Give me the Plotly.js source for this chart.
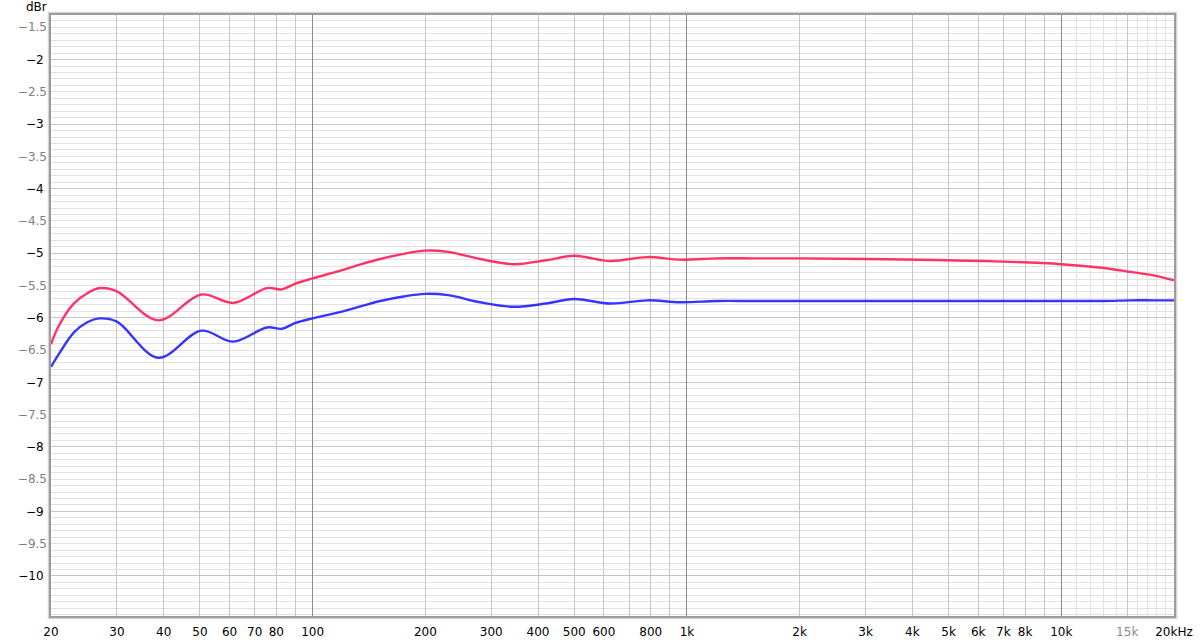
<!DOCTYPE html>
<html><head><meta charset="utf-8">
<script src="https://cdn.plot.ly/plotly-3.0.1.min.js"></script>
<style>html,body{margin:0;padding:0;background:#fff}#chart{width:1200px;height:640px}</style>
</head><body><div id="chart"></div>
<script>
// ---- data ----
const freq = [20, 21, 23, 25, 27, 30, 38.7, 50.4, 61.4, 75.5, 82.8, 90, 100, 118.6, 135, 151.6, 175, 200, 230, 280, 344, 420, 498, 625, 783, 961, 1200, 1500, 2000, 3000, 5000, 7000, 10000, 13000, 15350, 17500, 20000];
const redLevel = [-6.41, -6.12, -5.78, -5.62, -5.54, -5.59, -6.04, -5.64, -5.77, -5.54, -5.56, -5.47, -5.39, -5.27, -5.17, -5.09, -5.01, -4.96, -4.98, -5.09, -5.17, -5.11, -5.04, -5.12, -5.06, -5.10, -5.08, -5.08, -5.08, -5.09, -5.11, -5.13, -5.17, -5.23, -5.29, -5.34, -5.42];
const blueLevel = [-6.76, -6.56, -6.23, -6.07, -6.01, -6.06, -6.62, -6.20, -6.37, -6.15, -6.17, -6.08, -6.01, -5.91, -5.82, -5.74, -5.67, -5.63, -5.65, -5.76, -5.83, -5.78, -5.71, -5.78, -5.73, -5.76, -5.74, -5.74, -5.74, -5.74, -5.74, -5.74, -5.74, -5.74, -5.73, -5.73, -5.73];

// ---- tick labels ----
const xTickVals = [20, 30, 40, 50, 60, 70, 80, 90, 100, 200, 300, 400, 500, 600, 700, 800, 900, 1000, 2000, 3000, 4000, 5000, 6000, 7000, 8000, 9000, 10000, 15000, 20000];
const xTickText = ['20', '30', '40', '50', '60', '70', '80', '', '100', '200', '300', '400', '500', '600', '', '800', '', '1k', '2k', '3k', '4k', '5k', '6k', '7k', '8k', '', '10k', '<span style="color:#8c8c8c">15k</span>', '20kHz'];
const xGridDark = [100, 1000, 10000];
const xGridLight = [11000, 12000, 13000, 14000, 15000, 16000, 17000, 18000, 19000];
const yIntVals = [-2, -3, -4, -5, -6, -7, -8, -9, -10];
const yIntText = ['\u22122', '\u22123', '\u22124', '\u22125', '\u22126', '\u22127', '\u22128', '\u22129', '\u221210'];
const yHalfVals = [-1.5, -2.5, -3.5, -4.5, -5.5, -6.5, -7.5, -8.5, -9.5];
const yHalfText = ['\u22121.5', '\u22122.5', '\u22123.5', '\u22124.5', '\u22125.5', '\u22126.5', '\u22127.5', '\u22128.5', '\u22129.5'];

const yTenths = [];
for (let k = -106; k <= -13; k++) yTenths.push(k / 10);

const xRange = [Math.log10(20), Math.log10(20000)];
const yRange = [-10.62, -1.31];
const tickFont = {family: 'DejaVu Sans, sans-serif', size: 12, color: '#000'};

const traces = [
  {x: freq, y: redLevel, type: 'scatter', mode: 'lines', xaxis: 'x', yaxis: 'y',
   line: {color: '#ff3366', width: 2.4, shape: 'spline', smoothing: 1}, hoverinfo: 'skip'},
  {x: freq, y: blueLevel, type: 'scatter', mode: 'lines', xaxis: 'x2', yaxis: 'y2',
   line: {color: '#3535ff', width: 2.4, shape: 'spline', smoothing: 1}, hoverinfo: 'skip'}
];

// soft frame shadow
const shapes = [{type: 'rect', xref: 'paper', yref: 'paper', x0: -0.0022, x1: 1.0022, y0: -0.004, y1: 1.004,
  layer: 'below', line: {color: '#d6d6d6', width: 1.5}}];

const layout = {
  width: 1200, height: 640,
  margin: {l: 51, r: 26, t: 15, b: 24},
  paper_bgcolor: '#fff', plot_bgcolor: '#fff',
  showlegend: false, hovermode: false,
  font: tickFont,
  xaxis: {type: 'log', range: xRange, tickmode: 'array', tickvals: xTickVals, ticktext: xTickText,
    showgrid: true, gridcolor: '#c6c6c6', gridwidth: 1, zeroline: false, ticks: '', tickfont: tickFont, ticklabelstandoff: 4,
    showline: true, mirror: true, linecolor: '#9c9c9c', linewidth: 2, anchor: 'y'},
  xaxis2: {type: 'log', range: xRange, overlaying: 'x', anchor: 'y2', tickmode: 'array', tickvals: xGridDark,
    showticklabels: false, ticks: '', showgrid: true, gridcolor: '#8a8a8a', gridwidth: 1, zeroline: false,
    minor: {tickmode: 'array', tickvals: xGridLight, showgrid: true, gridcolor: '#e2e2e2', gridwidth: 1, ticks: ''}},
  yaxis: {range: yRange, tickmode: 'array', tickvals: yIntVals, ticktext: yIntText, ticks: '',
    showgrid: true, gridcolor: '#c6c6c6', gridwidth: 1, zeroline: false, tickfont: tickFont, ticklabelstandoff: 3,
    showline: true, mirror: true, linecolor: '#9c9c9c', linewidth: 2, anchor: 'x',
    minor: {tickmode: 'array', tickvals: yTenths, showgrid: true, gridcolor: '#e2e2e2', gridwidth: 1, ticks: ''}},
  yaxis2: {range: yRange, overlaying: 'y', anchor: 'x2', side: 'left', tickmode: 'array', tickvals: yHalfVals,
    ticktext: yHalfText, ticks: '', showgrid: false, zeroline: false, ticklabelstandoff: 3,
    tickfont: {family: 'DejaVu Sans, sans-serif', size: 12, color: '#808080'}},
  shapes: shapes,
  annotations: [{text: 'dBr', xref: 'paper', yref: 'paper', x: 0, y: 1, xanchor: 'center', yanchor: 'bottom',
    xshift: -15, yshift: -1, showarrow: false, font: {family: 'DejaVu Sans, sans-serif', size: 12, color: '#000'}}]
};

Plotly.newPlot('chart', traces, layout, {staticPlot: true, displayModeBar: false});
</script>
</body></html>
